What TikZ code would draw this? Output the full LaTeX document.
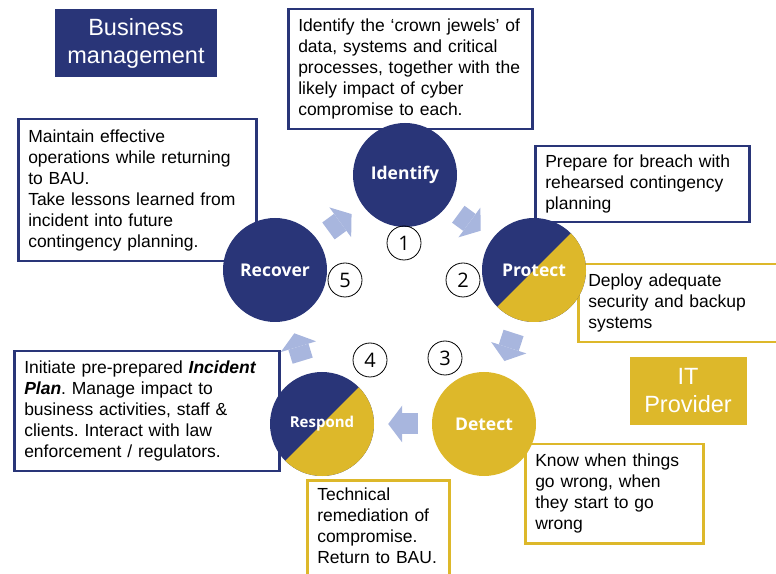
\documentclass[tikz,border=0pt]{standalone}
\usepackage{fontspec}
\setmainfont{Liberation Sans}
\newfontfamily\phasefont{Open Sans}
\newfontfamily\numfont{Open Sans}
\usepackage{tikz}
\usetikzlibrary{arrows.meta}
\definecolor{navy}{RGB}{41,53,120}
\definecolor{gold}{RGB}{221,184,42}
\definecolor{flowblue}{RGB}{168,182,222}
\frenchspacing
\tikzset{
  phase/.style={circle,minimum size=104pt,inner sep=0pt,fill=navy,text=white,
    font=\phasefont\bfseries\fontsize{17.5}{20}\selectfont},
  halfgold/.style={path picture={
    \fill[gold] (path picture bounding box.center) ++(45:80pt) -- ++(-135:160pt)
      -- ++(-45:80pt) -- ++(45:160pt) -- cycle;}},
  infobox/.style={draw,line width=2.5pt,fill=white,anchor=north west,align=left,
    inner xsep=10pt,font=\fontsize{17.5}{21}\selectfont},
  navybox/.style={infobox,draw=navy},
  goldbox/.style={infobox,draw=gold},
  tag/.style={text=white,align=center,inner sep=0pt,
    font=\fontsize{23.5}{28}\selectfont},
  num/.style={circle,draw,line width=0.8pt,minimum size=34pt,inner sep=0pt,
    font=\numfont\fontsize{20}{20}\selectfont},
  flow/.style={flowblue,line width=21pt,shorten <=14pt,shorten >=14pt,
    -{Triangle[length=14pt,width=37pt,line width=0pt]}}
}

\begin{document}
\begin{tikzpicture}[x=1pt,y=1pt]
  \path[use as bounding box,clip] (0,0) rectangle (776,573);
  % who is in charge
  \node[tag,fill=navy,minimum width=162pt,minimum height=68pt] (biz) at (136,530)
    {Business\\management};
  \node[tag,fill=gold,minimum width=117pt,minimum height=68pt] (itp) at (688,182)
    {IT\\Provider};
  % explanations
  \node[navybox,text width=224pt,minimum height=120pt] (tid) at (287,565)
    {Identify the ‘crown jewels’ of\\data, systems and critical\\processes, together with the\\likely impact of cyber\\compromise to each.};
  \node[navybox,text width=218pt,minimum height=142pt] (trc) at (17,455)
    {Maintain effective\\operations while returning\\to BAU.\\Take lessons learned from\\incident into future\\contingency planning.};
  \node[navybox,text width=194pt,minimum height=76pt] (tpr) at (534,428)
    {Prepare for breach with\\rehearsed contingency\\planning};
  \node[goldbox,text width=195pt,minimum height=78pt] (tpg) at (577,310)
    {Deploy adequate\\security and backup\\systems};
  \node[goldbox,text width=158pt,minimum height=99pt] (tde) at (524,130)
    {Know when things\\go wrong, when\\they start to go\\wrong};
  \node[navybox,text width=245pt,minimum height=120pt] (trs) at (13,223)
    {Initiate pre-prepared \textbf{\textit{Incident}}\\\textbf{\textit{Plan}}. Manage impact to\\business activities, staff \&\\clients. Interact with law\\enforcement / regulators.};
  \node[goldbox,text width=122pt,inner ysep=8pt] (trg) at (306,94)
    {Technical\\remediation of\\compromise.\\Return to BAU.\\[-6pt]\mbox{}};
  % phases
  \node[phase] (ide) at (405,398) {Identify};
  \node[phase,halfgold] (pro) at (534,303) {Protect};
  \node[phase,fill=gold] (det) at (484,149) {Detect};
  \node[phase,halfgold,font=\phasefont\bfseries\fontsize{15}{18}\selectfont] (res)
    at (322,149) {Respond};
  \node[phase] (rec) at (275,303) {Recover};
  % cycle
  \foreach \a/\b in {rec/ide,ide/pro,pro/det,det/res,res/rec}
    \draw[flow] (\a) -- (\b);
  % step numbers
  \foreach \k/\x/\y in {1/404/330,2/463/293,3/445/215,4/370/213,5/345/293}
    \node[num] (n\k) at (\x,\y) {\k};
\end{tikzpicture}
\end{document}
